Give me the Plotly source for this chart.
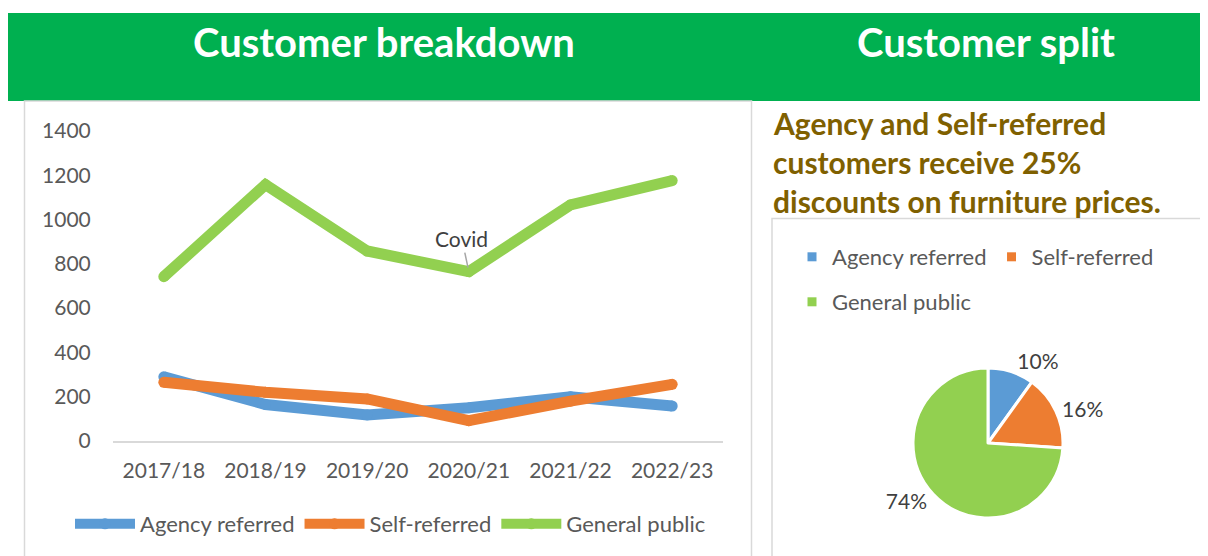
import plotly.graph_objects as go

W, H = 1208, 556
OFF = 8  # page body margin of the html page
def X(px): return (px - OFF) / W
def Y(py): return 1 - (py - OFF) / H

# ---- data ----
years = ["2017/18", "2018/19", "2019/20", "2020/21", "2021/22", "2022/23"]
agency_referred = [290, 165, 118, 150, 200, 158]
self_referred = [265, 220, 190, 92, 180, 256]
general_public = [742, 1158, 858, 765, 1066, 1176]
series_names = ["Agency referred", "Self-referred", "General public"]
y_ticks = [0, 200, 400, 600, 800, 1000, 1200, 1400]
# pie: customer split for latest year (2022/23)
pie_labels = series_names
pie_values = [agency_referred[-1], self_referred[-1], general_public[-1]]

colors = ["#5B9BD5", "#ED7D31", "#92D050"]
FONT = "Lato, 'Open Sans', sans-serif"
GRAY = "#595959"

fig = go.Figure()

for name, vals, col in zip(series_names, [agency_referred, self_referred, general_public], colors):
    fig.add_trace(go.Scatter(
        x=years, y=vals, name=name, mode="lines+markers",
        line=dict(color=col, width=11),
        marker=dict(color=col, size=11),
        legend="legend", hoverinfo="x+y+name",
    ))

# pie
fig.add_trace(go.Pie(
    labels=pie_labels, values=pie_values, sort=False, direction="clockwise",
    rotation=0, marker=dict(colors=colors, line=dict(color="white", width=3)),
    textposition="outside", texttemplate="%{percent:.0%}",
    textfont=dict(family=FONT, size=21, color="#404040"),
    showlegend=False,
    domain=dict(x=[X(913), X(1063)], y=[Y(518), Y(368)]),
))

# legend entries for the pie (split in two rows)
for i, (lab, col) in enumerate(zip(pie_labels, colors)):
    fig.add_trace(go.Scatter(
        x=[None], y=[None], name=lab, mode="markers",
        marker=dict(symbol="square", size=9, color=col),
        legend="legend2" if i < 2 else "legend3", showlegend=True,
    ))

shapes = [
    # green header
    dict(type="rect", xref="paper", yref="paper", x0=X(4), x1=X(1230), y0=Y(101), y1=Y(13),
         fillcolor="#00B050", line=dict(width=0), layer="below"),
    # left panel border
    dict(type="rect", xref="paper", yref="paper", x0=X(24.5), x1=X(751.5), y0=Y(580), y1=Y(101),
         fillcolor="rgba(0,0,0,0)", line=dict(color="#D9D9D9", width=1.5), layer="below"),
    # pie panel border
    dict(type="rect", xref="paper", yref="paper", x0=X(772), x1=X(1203.5), y0=Y(580), y1=Y(218.5),
         fillcolor="rgba(0,0,0,0)", line=dict(color="#D9D9D9", width=1.5), layer="below"),
]

annotations = [
    dict(text="<b>Customer breakdown</b>", x=X(384), y=Y(42), xref="paper", yref="paper",
         showarrow=False, xanchor="center", yanchor="middle",
         font=dict(family=FONT, size=40, color="white")),
    dict(text="<b>Customer split</b>", x=X(986), y=Y(42), xref="paper", yref="paper",
         showarrow=False, xanchor="center", yanchor="middle",
         font=dict(family=FONT, size=40, color="white")),
    dict(text="Covid", x=years[3], y=general_public[3], xref="x", yref="y",
         showarrow=True, arrowhead=0, arrowwidth=1.5, arrowcolor="#A6A6A6",
         ax=-7, ay=-33, standoff=4,
         font=dict(family=FONT, size=21, color="#404040")),
]
sub_lines = ["Agency and Self-referred", "customers receive 25%", "discounts on furniture prices."]
for i, ln in enumerate(sub_lines):
    annotations.append(dict(text="<b>" + ln + "</b>", x=X(771), y=Y(123 + 39 * i), xref="paper", yref="paper",
                            showarrow=False, xanchor="left", yanchor="middle",
                            font=dict(family=FONT, size=30, color="#7F6000")))

fig.update_layout(
    width=W, height=H, margin=dict(l=0, r=0, t=0, b=0, pad=0, autoexpand=False),
    paper_bgcolor="white", plot_bgcolor="white",
    font=dict(family=FONT, color=GRAY),
    shapes=shapes, annotations=annotations,
    xaxis=dict(domain=[X(113), X(723)], type="category", range=[-0.5, 5.5],
               showgrid=False, zeroline=False,
               showline=True, linecolor="#D9D9D9", linewidth=1.5,
               ticks="outside", ticklen=10, tickcolor="rgba(0,0,0,0)",
               tickfont=dict(family=FONT, size=21, color=GRAY), fixedrange=True,
               automargin=False),
    yaxis=dict(domain=[Y(441), Y(131)], range=[0, 1400], tickvals=y_ticks, showgrid=False,
               zeroline=False, showline=False, ticks="outside", ticklen=17,
               tickcolor="rgba(0,0,0,0)", tickfont=dict(family=FONT, size=21, color=GRAY),
               fixedrange=True, automargin=False),
    legend=dict(orientation="h", x=X(70), y=Y(524), xanchor="left", yanchor="middle",
                bgcolor="rgba(0,0,0,0)", itemwidth=60,
                font=dict(family=FONT, size=22, color=GRAY)),
    legend2=dict(orientation="h", x=X(792), y=Y(257), xanchor="left", yanchor="middle",
                 bgcolor="rgba(0,0,0,0)", itemwidth=30,
                 font=dict(family=FONT, size=22, color=GRAY)),
    legend3=dict(orientation="h", x=X(792), y=Y(302), xanchor="left", yanchor="middle",
                 bgcolor="rgba(0,0,0,0)", itemwidth=30,
                 font=dict(family=FONT, size=22, color=GRAY)),
    showlegend=True,
)

fig.write_html("out.html")
